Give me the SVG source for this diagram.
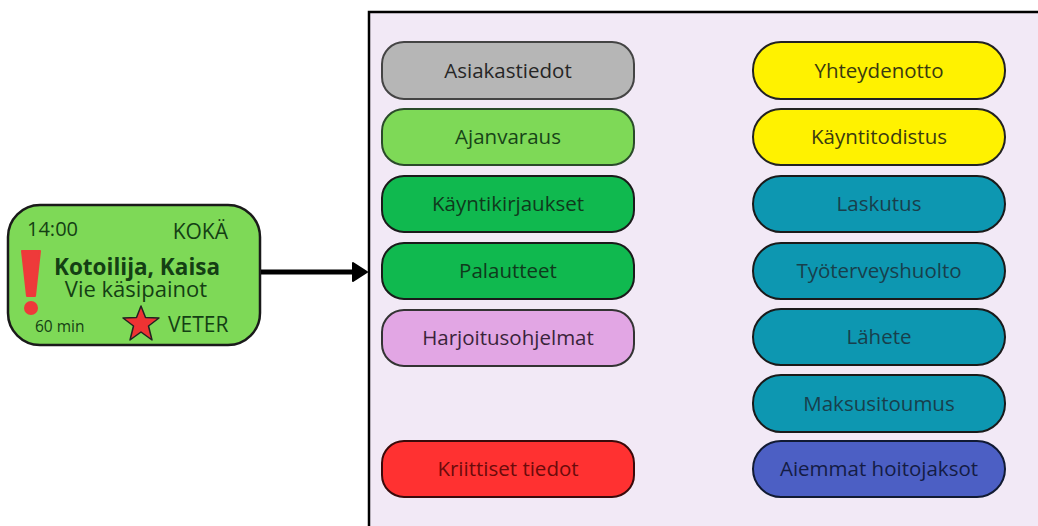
<svg xmlns="http://www.w3.org/2000/svg" width="1038" height="526" viewBox="0 0 1038 526">
<style>
.btn rect{stroke-width:2}
.t{font-family:"Open Sans","Noto Sans",sans-serif;font-size:20.5px;text-anchor:middle}
.c{font-family:"Open Sans","Noto Sans",sans-serif;fill:#143f14}
</style>
<defs>
<marker id="ah" viewBox="0 0 16 20" refX="8" refY="10" markerWidth="3.2" markerHeight="4" orient="auto" markerUnits="strokeWidth">
<path d="M1,1 L15,10 L1,19 z" fill="#000" stroke="#000" stroke-width="2" stroke-linejoin="round"/>
</marker>
</defs>
<rect width="1038" height="526" fill="#fff"/>
<rect id="panel" x="369" y="12" width="680" height="530" fill="#f2e9f6" stroke="#000" stroke-width="2.5"/>

<g id="card">
<rect x="8" y="205" width="252" height="140" rx="32" fill="#7ed957" stroke="#1a1a1a" stroke-width="2.5"/>
<text class="c" x="27" y="236" font-size="20">14:00</text>
<text class="c" x="228" y="239" font-size="21" text-anchor="end">KOKÄ</text>
<text class="c" x="137" y="275" font-size="22.5" font-weight="bold" text-anchor="middle">Kotoilija, Kaisa</text>
<text class="c" x="136" y="297" font-size="22" text-anchor="middle">Vie käsipainot</text>
<text class="c" x="35" y="332" font-size="15.5">60 min</text>
<text class="c" x="168" y="332" font-size="21">VETER</text>
<path d="M22,251 L40,251 L35,296 L27,296 Z" fill="#ee3a3a" stroke="#ee3a3a" stroke-linejoin="round" stroke-width="2"/>
<circle cx="31" cy="308" r="7" fill="#ee3a3a"/>
<polygon points="141,306 145.5,317.5 159,318 148.5,326 152,340 141,332 130,340 133.5,326 123,318 136.5,317.5" fill="#ee3333" stroke="#222" stroke-width="1.5" stroke-linejoin="round"/>
</g>

<g id="connectors">
<line x1="261" y1="272" x2="360" y2="272" stroke="#000" stroke-width="5" marker-end="url(#ah)"/>
</g>

<g id="asiakastiedot" class="btn"><rect x="382" y="42" width="252" height="57" rx="22" fill="#b6b6b6" stroke="#444"/><text class="t" x="508" y="78" fill="#262626">Asiakastiedot</text></g>
<g id="ajanvaraus" class="btn"><rect x="382" y="109" width="252" height="56" rx="22" fill="#7ed957" stroke="#2a4a2a"/><text class="t" x="508" y="144" fill="#174417">Ajanvaraus</text></g>
<g id="kayntikirjaukset" class="btn"><rect x="382" y="176" width="252" height="56" rx="22" fill="#10b94f" stroke="#1a1a1a"/><text class="t" x="508" y="211" fill="#0f3a1c">Käyntikirjaukset</text></g>
<g id="palautteet" class="btn"><rect x="382" y="243" width="252" height="56" rx="22" fill="#10b94f" stroke="#1a1a1a"/><text class="t" x="508" y="278" fill="#0f3a1c">Palautteet</text></g>
<g id="harjoitusohjelmat" class="btn"><rect x="382" y="310" width="252" height="56" rx="22" fill="#e2a6e4" stroke="#333"/><text class="t" x="508" y="345" fill="#3a243a">Harjoitusohjelmat</text></g>
<g id="kriittiset" class="btn"><rect x="382" y="441" width="252" height="56" rx="22" fill="#ff3131" stroke="#3a0a0a"/><text class="t" x="508" y="476" fill="#6b0b0b">Kriittiset tiedot</text></g>

<g id="yhteydenotto" class="btn"><rect x="753" y="42" width="252" height="57" rx="28" fill="#fff200" stroke="#222"/><text class="t" x="879" y="78" fill="#3a3a10">Yhteydenotto</text></g>
<g id="kayntitodistus" class="btn"><rect x="753" y="109" width="252" height="56" rx="28" fill="#fff200" stroke="#222"/><text class="t" x="879" y="144" fill="#3a3a10">Käyntitodistus</text></g>
<g id="laskutus" class="btn"><rect x="753" y="176" width="252" height="56" rx="28" fill="#0d97b1" stroke="#1a1a1a"/><text class="t" x="879" y="211" fill="#183f4c">Laskutus</text></g>
<g id="tyoterveyshuolto" class="btn"><rect x="753" y="243" width="252" height="56" rx="28" fill="#0d97b1" stroke="#1a1a1a"/><text class="t" x="879" y="278" fill="#183f4c">Työterveyshuolto</text></g>
<g id="lahete" class="btn"><rect x="753" y="309" width="252" height="56" rx="28" fill="#0d97b1" stroke="#1a1a1a"/><text class="t" x="879" y="344" fill="#183f4c">Lähete</text></g>
<g id="maksusitoumus" class="btn"><rect x="753" y="375" width="252" height="57" rx="28" fill="#0d97b1" stroke="#1a1a1a"/><text class="t" x="879" y="411" fill="#183f4c">Maksusitoumus</text></g>
<g id="aiemmat" class="btn"><rect x="753" y="441" width="252" height="56" rx="28" fill="#4c5fc4" stroke="#111a33"/><text class="t" x="879" y="476" fill="#141c44">Aiemmat hoitojaksot</text></g>
</svg>
